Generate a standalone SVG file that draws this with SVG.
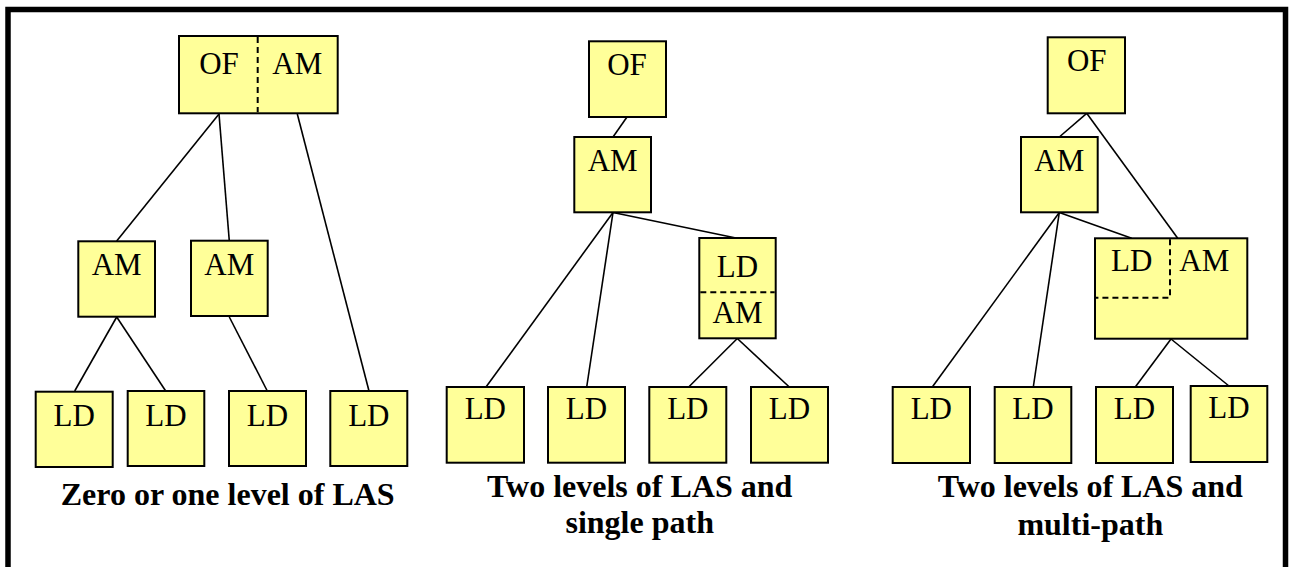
<svg xmlns="http://www.w3.org/2000/svg" width="1294" height="567" viewBox="0 0 1294 567">
<style>
.box{fill:#FFFF99;stroke:#000;stroke-width:2}
.dash{fill:none;stroke:#000;stroke-width:2;stroke-dasharray:6,4}
.lbl{font-size:31px;fill:#000;text-anchor:middle}
.cap{font-size:32px;font-weight:bold;fill:#000;text-anchor:middle}
.conn line{stroke:#000;stroke-width:1.6}
</style>
<rect width="1294" height="567" fill="#fff"/>
<rect x="8" y="9.5" width="1277.5" height="600" fill="none" stroke="#000" stroke-width="5.5"/>

<g class="conn" id="connectors">
  <line x1="219" y1="114" x2="116.7" y2="241"/>
  <line x1="219" y1="114" x2="229.3" y2="241"/>
  <line x1="297.3" y1="114" x2="369" y2="391"/>
  <line x1="116.7" y1="317" x2="74.7" y2="391"/>
  <line x1="116.7" y1="317" x2="165.7" y2="391"/>
  <line x1="229.3" y1="317" x2="267.3" y2="391"/>
  <line x1="627" y1="117" x2="613" y2="137"/>
  <line x1="613" y1="212.5" x2="736" y2="238"/>
  <line x1="613" y1="212.5" x2="486" y2="387"/>
  <line x1="613" y1="212.5" x2="586.7" y2="387"/>
  <line x1="737.3" y1="338.5" x2="688.7" y2="387"/>
  <line x1="737.3" y1="338.5" x2="789.3" y2="387"/>
  <line x1="1086.7" y1="113.3" x2="1059.3" y2="137"/>
  <line x1="1086.7" y1="113.3" x2="1177.7" y2="238.3"/>
  <line x1="1059.3" y1="212.5" x2="1131.7" y2="238.3"/>
  <line x1="1059.3" y1="212.5" x2="932.3" y2="387"/>
  <line x1="1059.3" y1="212.5" x2="1033.3" y2="387"/>
  <line x1="1171" y1="339" x2="1135.3" y2="387"/>
  <line x1="1171" y1="339" x2="1229" y2="386"/>
</g>

<g font-family="Liberation Serif, Tinos, Times New Roman, DejaVu Serif, serif">
<g id="p1-ofam">
  <rect class="box" x="179" y="36" width="158.7" height="77.3"/>
  <line class="dash" x1="257.7" y1="37" x2="257.7" y2="112.3"/>
  <text class="lbl" x="219" y="74">OF</text>
  <text class="lbl" x="297.3" y="74">AM</text>
</g>
<g id="p1-am1">
  <rect class="box" x="78.3" y="241.3" width="76.7" height="75.4"/>
  <text class="lbl" x="116.7" y="275">AM</text>
</g>
<g id="p1-am2">
  <rect class="box" x="191" y="240.7" width="76.7" height="75.3"/>
  <text class="lbl" x="229.3" y="275">AM</text>
</g>
<g id="p1-ld1">
  <rect class="box" x="35.7" y="391.7" width="77" height="75.3"/>
  <text class="lbl" x="74.2" y="425.7">LD</text>
</g>
<g id="p1-ld2">
  <rect class="box" x="127.7" y="391" width="76.6" height="75"/>
  <text class="lbl" x="166" y="425.7">LD</text>
</g>
<g id="p1-ld3">
  <rect class="box" x="229" y="391" width="77" height="75"/>
  <text class="lbl" x="267.5" y="425.7">LD</text>
</g>
<g id="p1-ld4">
  <rect class="box" x="330.3" y="391" width="77" height="75"/>
  <text class="lbl" x="368.8" y="425.7">LD</text>
</g>
<g id="cap1">
  <text class="cap" x="227.7" y="505">Zero or one level of LAS</text>
</g>

<g id="p2-of">
  <rect class="box" x="589" y="41.3" width="77" height="75.7"/>
  <text class="lbl" x="627" y="75.3">OF</text>
</g>
<g id="p2-am">
  <rect class="box" x="574.3" y="137" width="76.7" height="75.3"/>
  <text class="lbl" x="612.7" y="170.7">AM</text>
</g>
<g id="p2-ldam">
  <rect class="box" x="699.3" y="238" width="76.4" height="100.3"/>
  <line class="dash" x1="700.3" y1="292.3" x2="774.7" y2="292.3"/>
  <text class="lbl" x="737.5" y="277.3">LD</text>
  <text class="lbl" x="737.5" y="323.3">AM</text>
</g>
<g id="p2-ld1">
  <rect class="box" x="446.7" y="387" width="77.3" height="75.7"/>
  <text class="lbl" x="485.3" y="419.3">LD</text>
</g>
<g id="p2-ld2">
  <rect class="box" x="548" y="387" width="77" height="75.7"/>
  <text class="lbl" x="586.5" y="419.3">LD</text>
</g>
<g id="p2-ld3">
  <rect class="box" x="649.3" y="387" width="77" height="75.7"/>
  <text class="lbl" x="687.8" y="419.3">LD</text>
</g>
<g id="p2-ld4">
  <rect class="box" x="751" y="387" width="77" height="75.7"/>
  <text class="lbl" x="789.5" y="419.3">LD</text>
</g>
<g id="cap2">
  <text class="cap" x="639.7" y="496.7">Two levels of LAS and</text>
  <text class="cap" x="639.7" y="533.3">single path</text>
</g>

<g id="p3-of">
  <rect class="box" x="1047.7" y="37.3" width="77.3" height="76"/>
  <text class="lbl" x="1086.7" y="71">OF</text>
</g>
<g id="p3-am">
  <rect class="box" x="1021" y="137" width="76.7" height="75.3"/>
  <text class="lbl" x="1059.3" y="170.7">AM</text>
</g>
<g id="p3-ldam">
  <rect class="box" x="1095" y="238.3" width="152.3" height="100.4"/>
  <path class="dash" d="M1170 239.3 V297.7 H1096"/>
  <text class="lbl" x="1131.7" y="270.7">LD</text>
  <text class="lbl" x="1204.3" y="270.7">AM</text>
</g>
<g id="p3-ld1">
  <rect class="box" x="892.7" y="387" width="77.3" height="76"/>
  <text class="lbl" x="931.3" y="419.3">LD</text>
</g>
<g id="p3-ld2">
  <rect class="box" x="994.7" y="387" width="76.6" height="76"/>
  <text class="lbl" x="1033" y="419.3">LD</text>
</g>
<g id="p3-ld3">
  <rect class="box" x="1096" y="387" width="77" height="76"/>
  <text class="lbl" x="1134.5" y="419.3">LD</text>
</g>
<g id="p3-ld4">
  <rect class="box" x="1190.7" y="386" width="76.6" height="76"/>
  <text class="lbl" x="1229" y="418">LD</text>
</g>
<g id="cap3">
  <text class="cap" x="1090.3" y="497.3">Two levels of LAS and</text>
  <text class="cap" x="1090.3" y="535">multi-path</text>
</g>
</g>
</svg>
